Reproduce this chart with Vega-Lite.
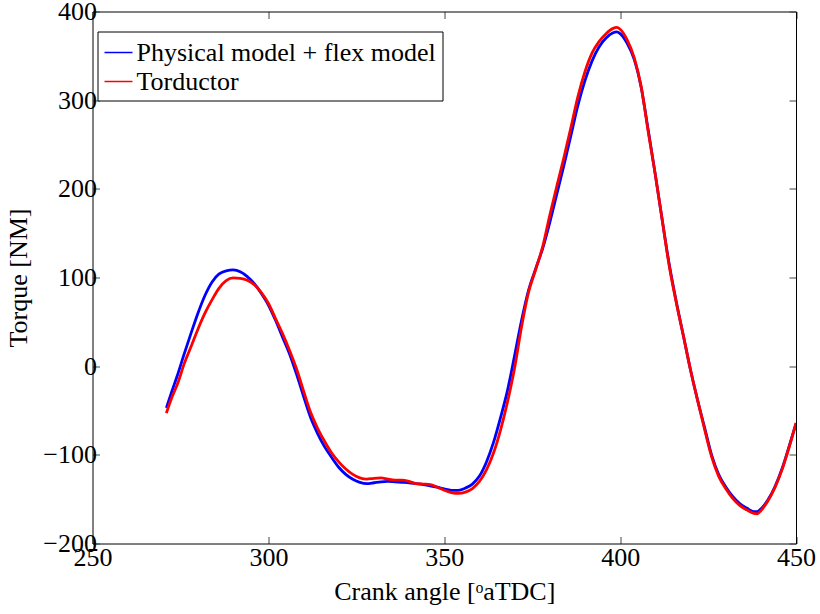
{
  "$schema": "https://vega.github.io/schema/vega-lite/v6.json",
  "width": 703.5,
  "height": 532,
  "autosize": {"type": "none"},
  "padding": {"left": 92.5, "top": 11.5, "right": 24, "bottom": 70.5},
  "background": "white",
  "config": {
    "view": {"stroke": null},
    "font": "Liberation Serif",
    "axis": {"grid": false, "domainColor": "black", "domainWidth": 1, "tickColor": "#444", "tickWidth": 1, "tickSize": -7, "labelFlush": false, "labelOverlap": false, "labelFont": "Liberation Serif", "labelFontSize": 26, "labelColor": "black", "titleFont": "Liberation Serif", "titleFontSize": 26, "titleFontWeight": "normal", "titleColor": "black"}
  },
  "data": {"values": [
    {"a":271,"t":-47,"s":"Physical model + flex model"},{"a":272.5,"t":-29,"s":"Physical model + flex model"},{"a":274,"t":-12,"s":"Physical model + flex model"},{"a":276,"t":13,"s":"Physical model + flex model"},{"a":278,"t":37,"s":"Physical model + flex model"},{"a":280,"t":60,"s":"Physical model + flex model"},{"a":282,"t":80,"s":"Physical model + flex model"},{"a":284,"t":95,"s":"Physical model + flex model"},{"a":286,"t":104,"s":"Physical model + flex model"},{"a":288,"t":107.5,"s":"Physical model + flex model"},{"a":290,"t":108.5,"s":"Physical model + flex model"},{"a":292,"t":106.5,"s":"Physical model + flex model"},{"a":294,"t":101,"s":"Physical model + flex model"},{"a":296,"t":93,"s":"Physical model + flex model"},{"a":298,"t":82,"s":"Physical model + flex model"},{"a":300,"t":69,"s":"Physical model + flex model"},{"a":302,"t":52,"s":"Physical model + flex model"},{"a":304,"t":33,"s":"Physical model + flex model"},{"a":306,"t":14,"s":"Physical model + flex model"},{"a":308,"t":-9,"s":"Physical model + flex model"},{"a":310,"t":-34,"s":"Physical model + flex model"},{"a":312,"t":-58,"s":"Physical model + flex model"},{"a":314,"t":-76,"s":"Physical model + flex model"},{"a":316,"t":-91,"s":"Physical model + flex model"},{"a":318,"t":-103,"s":"Physical model + flex model"},{"a":320,"t":-114,"s":"Physical model + flex model"},{"a":322,"t":-122,"s":"Physical model + flex model"},{"a":324,"t":-127.5,"s":"Physical model + flex model"},{"a":326,"t":-131,"s":"Physical model + flex model"},{"a":328,"t":-132.5,"s":"Physical model + flex model"},{"a":330,"t":-131.5,"s":"Physical model + flex model"},{"a":332,"t":-130.5,"s":"Physical model + flex model"},{"a":334,"t":-130,"s":"Physical model + flex model"},{"a":336,"t":-130.5,"s":"Physical model + flex model"},{"a":338,"t":-131,"s":"Physical model + flex model"},{"a":340,"t":-131.5,"s":"Physical model + flex model"},{"a":342,"t":-132.5,"s":"Physical model + flex model"},{"a":344,"t":-133.5,"s":"Physical model + flex model"},{"a":346,"t":-135,"s":"Physical model + flex model"},{"a":348,"t":-136.5,"s":"Physical model + flex model"},{"a":350,"t":-138.5,"s":"Physical model + flex model"},{"a":352,"t":-140,"s":"Physical model + flex model"},{"a":354,"t":-140,"s":"Physical model + flex model"},{"a":356,"t":-137.5,"s":"Physical model + flex model"},{"a":358,"t":-133,"s":"Physical model + flex model"},{"a":360,"t":-124,"s":"Physical model + flex model"},{"a":362,"t":-108,"s":"Physical model + flex model"},{"a":364,"t":-86,"s":"Physical model + flex model"},{"a":366,"t":-58,"s":"Physical model + flex model"},{"a":368,"t":-27,"s":"Physical model + flex model"},{"a":370,"t":12,"s":"Physical model + flex model"},{"a":372,"t":52,"s":"Physical model + flex model"},{"a":374,"t":86,"s":"Physical model + flex model"},{"a":376,"t":110,"s":"Physical model + flex model"},{"a":378,"t":133,"s":"Physical model + flex model"},{"a":380,"t":162,"s":"Physical model + flex model"},{"a":382,"t":194,"s":"Physical model + flex model"},{"a":384,"t":226,"s":"Physical model + flex model"},{"a":386,"t":260,"s":"Physical model + flex model"},{"a":388,"t":294,"s":"Physical model + flex model"},{"a":390,"t":322,"s":"Physical model + flex model"},{"a":392,"t":344,"s":"Physical model + flex model"},{"a":394,"t":360,"s":"Physical model + flex model"},{"a":396,"t":370,"s":"Physical model + flex model"},{"a":398,"t":376,"s":"Physical model + flex model"},{"a":399,"t":377,"s":"Physical model + flex model"},{"a":400,"t":375,"s":"Physical model + flex model"},{"a":402,"t":364,"s":"Physical model + flex model"},{"a":404,"t":346,"s":"Physical model + flex model"},{"a":406,"t":314,"s":"Physical model + flex model"},{"a":408,"t":266,"s":"Physical model + flex model"},{"a":410,"t":216,"s":"Physical model + flex model"},{"a":412,"t":164,"s":"Physical model + flex model"},{"a":414,"t":114,"s":"Physical model + flex model"},{"a":416,"t":72,"s":"Physical model + flex model"},{"a":418,"t":34,"s":"Physical model + flex model"},{"a":420,"t":-4,"s":"Physical model + flex model"},{"a":422,"t":-38,"s":"Physical model + flex model"},{"a":424,"t":-69,"s":"Physical model + flex model"},{"a":426,"t":-100,"s":"Physical model + flex model"},{"a":428,"t":-122,"s":"Physical model + flex model"},{"a":430,"t":-136,"s":"Physical model + flex model"},{"a":432,"t":-147,"s":"Physical model + flex model"},{"a":434,"t":-155,"s":"Physical model + flex model"},{"a":436,"t":-160,"s":"Physical model + flex model"},{"a":438,"t":-164,"s":"Physical model + flex model"},{"a":439,"t":-164,"s":"Physical model + flex model"},{"a":440,"t":-161,"s":"Physical model + flex model"},{"a":442,"t":-151,"s":"Physical model + flex model"},{"a":444,"t":-136,"s":"Physical model + flex model"},{"a":446,"t":-116,"s":"Physical model + flex model"},{"a":448,"t":-91,"s":"Physical model + flex model"},{"a":450,"t":-65,"s":"Physical model + flex model"},
    {"a":271,"t":-53,"s":"Torductor"},{"a":272.5,"t":-36,"s":"Torductor"},{"a":274.4,"t":-17.5,"s":"Torductor"},{"a":276,"t":2,"s":"Torductor"},{"a":278,"t":22,"s":"Torductor"},{"a":280,"t":42,"s":"Torductor"},{"a":282,"t":60,"s":"Torductor"},{"a":284,"t":75,"s":"Torductor"},{"a":286,"t":88,"s":"Torductor"},{"a":288,"t":96.5,"s":"Torductor"},{"a":290,"t":99.5,"s":"Torductor"},{"a":292,"t":99,"s":"Torductor"},{"a":294,"t":97,"s":"Torductor"},{"a":296,"t":92,"s":"Torductor"},{"a":298,"t":83,"s":"Torductor"},{"a":300,"t":71,"s":"Torductor"},{"a":302,"t":54,"s":"Torductor"},{"a":304,"t":37,"s":"Torductor"},{"a":306,"t":18,"s":"Torductor"},{"a":308,"t":-3,"s":"Torductor"},{"a":310,"t":-28,"s":"Torductor"},{"a":312,"t":-52,"s":"Torductor"},{"a":314,"t":-70,"s":"Torductor"},{"a":316,"t":-85,"s":"Torductor"},{"a":318,"t":-98,"s":"Torductor"},{"a":320,"t":-108,"s":"Torductor"},{"a":322,"t":-116,"s":"Torductor"},{"a":324,"t":-122,"s":"Torductor"},{"a":326,"t":-126,"s":"Torductor"},{"a":328,"t":-127.5,"s":"Torductor"},{"a":330,"t":-126.5,"s":"Torductor"},{"a":332,"t":-126,"s":"Torductor"},{"a":334,"t":-127.5,"s":"Torductor"},{"a":336,"t":-128.5,"s":"Torductor"},{"a":338,"t":-128.5,"s":"Torductor"},{"a":340,"t":-130,"s":"Torductor"},{"a":342,"t":-132.5,"s":"Torductor"},{"a":344,"t":-133,"s":"Torductor"},{"a":346,"t":-133.5,"s":"Torductor"},{"a":348,"t":-136.5,"s":"Torductor"},{"a":350,"t":-140,"s":"Torductor"},{"a":352,"t":-142.5,"s":"Torductor"},{"a":354,"t":-143.5,"s":"Torductor"},{"a":356,"t":-142,"s":"Torductor"},{"a":358,"t":-138,"s":"Torductor"},{"a":360,"t":-130,"s":"Torductor"},{"a":362,"t":-117,"s":"Torductor"},{"a":364,"t":-98,"s":"Torductor"},{"a":366,"t":-72,"s":"Torductor"},{"a":368,"t":-40,"s":"Torductor"},{"a":370,"t":-2,"s":"Torductor"},{"a":372,"t":45,"s":"Torductor"},{"a":374,"t":84,"s":"Torductor"},{"a":376,"t":109,"s":"Torductor"},{"a":378,"t":135,"s":"Torductor"},{"a":380,"t":170,"s":"Torductor"},{"a":382,"t":203,"s":"Torductor"},{"a":384,"t":235,"s":"Torductor"},{"a":386,"t":269,"s":"Torductor"},{"a":388,"t":304,"s":"Torductor"},{"a":390,"t":332,"s":"Torductor"},{"a":392,"t":353,"s":"Torductor"},{"a":394,"t":366,"s":"Torductor"},{"a":396,"t":375,"s":"Torductor"},{"a":398,"t":381,"s":"Torductor"},{"a":399,"t":382,"s":"Torductor"},{"a":400,"t":380,"s":"Torductor"},{"a":402,"t":368,"s":"Torductor"},{"a":404,"t":348,"s":"Torductor"},{"a":406,"t":315,"s":"Torductor"},{"a":408,"t":264,"s":"Torductor"},{"a":410,"t":216,"s":"Torductor"},{"a":412,"t":164,"s":"Torductor"},{"a":414,"t":112,"s":"Torductor"},{"a":416,"t":71,"s":"Torductor"},{"a":418,"t":34,"s":"Torductor"},{"a":420,"t":-4,"s":"Torductor"},{"a":422,"t":-38,"s":"Torductor"},{"a":424,"t":-71,"s":"Torductor"},{"a":426,"t":-102,"s":"Torductor"},{"a":428,"t":-124,"s":"Torductor"},{"a":430,"t":-138,"s":"Torductor"},{"a":432,"t":-149,"s":"Torductor"},{"a":434,"t":-157,"s":"Torductor"},{"a":436,"t":-162,"s":"Torductor"},{"a":438,"t":-166,"s":"Torductor"},{"a":439,"t":-166.5,"s":"Torductor"},{"a":440,"t":-163,"s":"Torductor"},{"a":442,"t":-152,"s":"Torductor"},{"a":444,"t":-137,"s":"Torductor"},{"a":446,"t":-117,"s":"Torductor"},{"a":448,"t":-92,"s":"Torductor"},{"a":450,"t":-64,"s":"Torductor"}
  ]},
  "layer": [
    {
      "mark": {"type": "line", "interpolate": "monotone", "strokeWidth": 2.8, "clip": true},
      "encoding": {
        "x": {"field": "a", "type": "quantitative", "scale": {"domain": [250, 450], "nice": false, "zero": false}, "axis": {"orient": "bottom", "values": [250, 300, 350, 400, 450], "title": "Crank angle [ᵒaTDC]", "labelPadding": 8, "titlePadding": 8}},
        "y": {"field": "t", "type": "quantitative", "scale": {"domain": [-200, 400], "nice": false, "zero": false}, "axis": {"orient": "left", "values": [-200, -100, 0, 100, 200, 300, 400], "title": "Torque [NM]", "labelPadding": 3, "titlePadding": 11}},
        "color": {"field": "s", "type": "nominal", "scale": {"domain": ["Physical model + flex model", "Torductor"], "range": ["#0000ff", "#ff0000"]}, "legend": {"title": null, "orient": "none", "legendX": 5, "legendY": 20, "symbolType": "stroke", "symbolSize": 784, "symbolStrokeWidth": 1.5, "labelFontSize": 26, "labelFont": "Liberation Serif", "labelColor": "black", "labelLimit": 0, "strokeColor": "black", "fillColor": "white", "padding": 6, "rowPadding": 1, "labelOffset": 3}}
      }
    },
    {
      "mark": {"type": "line", "opacity": 0},
      "encoding": {
        "x": {"field": "a", "type": "quantitative", "scale": {"domain": [250, 450], "nice": false, "zero": false}, "axis": {"orient": "top", "values": [250, 300, 350, 400, 450], "labels": false, "title": null}},
        "y": {"field": "t", "type": "quantitative", "scale": {"domain": [-200, 400], "nice": false, "zero": false}, "axis": {"orient": "right", "values": [-200, -100, 0, 100, 200, 300, 400], "labels": false, "title": null}},
        "detail": {"field": "s"}
      }
    }
  ],
  "resolve": {"axis": {"x": "independent", "y": "independent"}}
}
